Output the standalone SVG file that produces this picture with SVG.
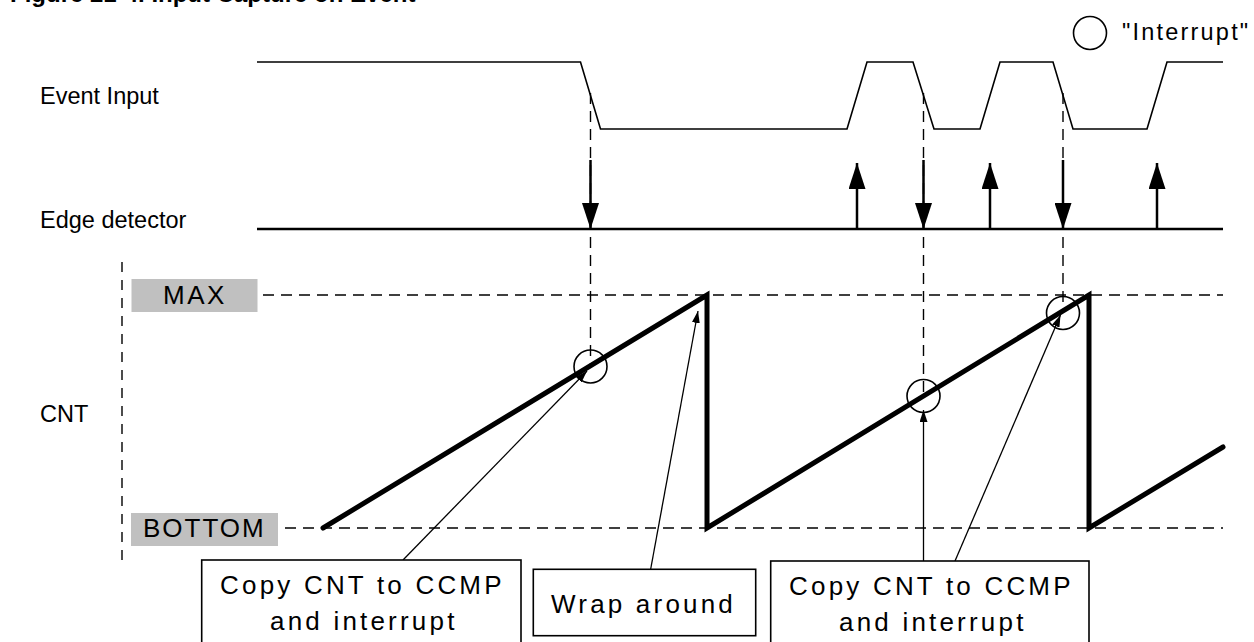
<svg xmlns="http://www.w3.org/2000/svg" width="1254" height="642" viewBox="0 0 1254 642">
<defs>
<style>
.lbl{font-family:"Liberation Sans",Arial,sans-serif;font-size:23.5px;fill:#000}
.box{font-family:"Liberation Sans",Arial,sans-serif;font-size:26px;letter-spacing:3.2px;fill:#000}
.sig{fill:none;stroke:#000;stroke-width:1.6}
.dash{fill:none;stroke:#000;stroke-width:1.4;stroke-dasharray:11 7}
.edge{stroke:#000;stroke-width:2.5}
.saw{fill:none;stroke:#000;stroke-width:5;stroke-linejoin:miter;stroke-linecap:round}
.thin{stroke:#000;stroke-width:1.3;fill:none}
.cb{fill:#fff;stroke:#000;stroke-width:1.6}
.ring{fill:none;stroke:#000;stroke-width:1.6}
</style>
<marker id="big" viewBox="0 0 26 17" refX="26" refY="8.5" markerWidth="26" markerHeight="17" markerUnits="userSpaceOnUse" orient="auto">
<path d="M0,0 L26,8.5 L0,17 Z" fill="#000"/>
</marker>
<marker id="small" viewBox="0 0 12 8" refX="12" refY="4" markerWidth="12" markerHeight="8" markerUnits="userSpaceOnUse" orient="auto">
<path d="M0,0 L12,4 L0,8 Z" fill="#000"/>
</marker>
</defs>
<rect width="1254" height="642" fill="#fff"/>
<text x="10" y="2" font-family="Liberation Sans,Arial,sans-serif" font-size="24" font-weight="bold">Figure 21-4. Input Capture on Event</text>

<g id="legend">
<circle class="ring" cx="1090" cy="33" r="16.5"/>
<text class="lbl" x="1122" y="39.5" style="letter-spacing:2.2px">"Interrupt"</text>
</g>

<g id="labels">
<text class="lbl" x="40" y="104">Event Input</text>
<text class="lbl" x="40" y="228">Edge detector</text>
<text class="lbl" x="40" y="422">CNT</text>
</g>

<g id="max-label">
<rect x="131.5" y="279" width="126" height="33" fill="#c0c0c0"/>
<text class="box" x="163" y="304" style="letter-spacing:2.5px">MAX</text>
</g>
<g id="bottom-label">
<rect x="131" y="513" width="147" height="33" fill="#c0c0c0"/>
<text class="box" x="143" y="537" style="letter-spacing:2px">BOTTOM</text>
</g>

<g id="guides">
<line class="dash" x1="122" y1="262" x2="122" y2="563" style="stroke-dasharray:10 8"/>
<line class="dash" x1="263" y1="295" x2="1223" y2="295"/>
<line class="dash" x1="285" y1="528" x2="1223" y2="528"/>
<line class="dash" x1="590.5" y1="93" x2="590.5" y2="366"/>
<line class="dash" x1="923.5" y1="93" x2="923.5" y2="396"/>
<line class="dash" x1="1063" y1="93" x2="1063" y2="312"/>
</g>

<g id="event-input">
<polyline class="sig" points="257,62 580.5,62 600.5,129 847,129 867,62 913,62 934,129 980,129 1000,62 1053,62 1073,129 1147,129 1167,62 1223,62"/>
</g>

<g id="edge-detector">
<line class="edge" x1="257" y1="229" x2="1223" y2="229"/>
</g>

<g id="connectors">
<line class="edge" x1="590.5" y1="160" x2="590.5" y2="229" marker-end="url(#big)"/>
<line class="edge" x1="923.5" y1="160" x2="923.5" y2="229" marker-end="url(#big)"/>
<line class="edge" x1="1063" y1="160" x2="1063" y2="229" marker-end="url(#big)"/>
<line class="edge" x1="857" y1="229" x2="857" y2="163" marker-end="url(#big)"/>
<line class="edge" x1="990" y1="229" x2="990" y2="163" marker-end="url(#big)"/>
<line class="edge" x1="1157" y1="229" x2="1157" y2="163" marker-end="url(#big)"/>
<line class="thin" x1="403" y1="560" x2="587" y2="371" marker-end="url(#small)"/>
<line class="thin" x1="650.7" y1="569" x2="698" y2="311" marker-end="url(#small)"/>
<line class="thin" x1="923.5" y1="561" x2="923.5" y2="410" marker-end="url(#small)"/>
<line class="thin" x1="955" y1="561" x2="1060.5" y2="315" marker-end="url(#small)"/>
</g>

<g id="cnt">
<polyline class="saw" points="323,528 707,295 707,528 1089,295 1089,528 1223,447"/>
<circle class="ring" cx="590.5" cy="366.5" r="16.5"/>
<circle class="ring" cx="923.5" cy="396" r="16.5"/>
<circle class="ring" cx="1063" cy="313" r="16.5"/>
</g>

<g id="box-copy1">
<rect class="cb" x="201.7" y="560" width="319.3" height="90"/>
<text class="box" x="220" y="594">Copy CNT to CCMP</text>
<text class="box" x="270" y="630">and interrupt</text>
</g>
<g id="box-wrap">
<rect class="cb" x="533.3" y="569.3" width="222.4" height="66.4"/>
<text class="box" x="551" y="613">Wrap around</text>
</g>
<g id="box-copy2">
<rect class="cb" x="770.7" y="561" width="318.3" height="90"/>
<text class="box" x="789" y="595">Copy CNT to CCMP</text>
<text class="box" x="839" y="631">and interrupt</text>
</g>
</svg>
